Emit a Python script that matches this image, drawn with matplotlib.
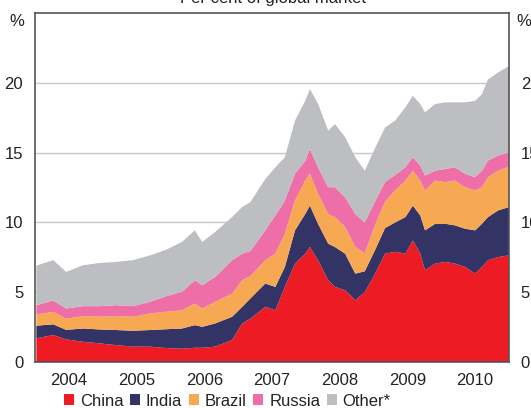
import matplotlib
matplotlib.use("Agg")
import matplotlib.pyplot as plt
from matplotlib.patches import Patch

plt.rcParams['font.family'] = ['Liberation Sans', 'DejaVu Sans']

# Time (decimal years)
dates = [2004.02, 2004.27, 2004.46, 2004.71, 2004.96, 2005.20, 2005.45, 2005.70,
         2005.94, 2006.17, 2006.36, 2006.47, 2006.66, 2006.91, 2007.06, 2007.18,
         2007.40, 2007.55, 2007.69, 2007.84, 2007.99, 2008.06, 2008.18, 2008.33,
         2008.43, 2008.58, 2008.73, 2008.87, 2009.02, 2009.17, 2009.32, 2009.47,
         2009.58, 2009.69, 2009.76, 2009.91, 2010.06, 2010.20, 2010.35, 2010.50,
         2010.60, 2010.69, 2010.84, 2011.00]

china = [1.70, 1.93, 1.62, 1.45, 1.33, 1.21, 1.10, 1.10, 1.00, 0.95, 1.02, 1.02,
         1.10, 1.57, 2.76, 3.10, 3.95, 3.71, 5.38, 7.05, 7.76, 8.24, 7.29, 5.86,
         5.38, 5.14, 4.43, 5.00, 6.30, 7.76, 7.90, 7.76, 8.71, 7.76, 6.57, 7.05,
         7.17, 7.05, 6.81, 6.33, 6.81, 7.29, 7.52, 7.64]
india = [0.90, 0.77, 0.68, 0.95, 1.00, 1.08, 1.14, 1.19, 1.35, 1.45, 1.62, 1.50,
         1.66, 1.67, 1.19, 1.45, 1.67, 1.67, 1.43, 2.38, 2.84, 2.96, 2.61, 2.62,
         2.86, 2.62, 1.90, 1.50, 1.70, 1.84, 2.10, 2.62, 2.49, 2.74, 2.86, 2.85,
         2.73, 2.74, 2.74, 3.10, 3.09, 3.09, 3.34, 3.46]
brazil = [0.80, 0.90, 0.80, 0.89, 0.91, 1.00, 1.00, 1.19, 1.25, 1.31, 1.55, 1.31,
          1.55, 1.66, 1.91, 1.60, 1.67, 2.38, 2.38, 2.14, 2.40, 2.30, 2.15, 2.12,
          2.14, 1.91, 1.91, 1.30, 1.80, 1.90, 2.30, 2.62, 2.50, 2.50, 2.86, 3.10,
          2.98, 3.21, 2.97, 2.86, 2.62, 2.86, 2.84, 2.90]
russia = [0.67, 0.80, 0.73, 0.71, 0.76, 0.78, 0.76, 0.83, 1.12, 1.31, 1.67, 1.67,
          1.79, 2.39, 1.90, 1.80, 2.14, 2.74, 2.38, 1.93, 1.40, 1.76, 1.90, 1.92,
          2.14, 2.13, 2.36, 2.20, 1.70, 1.40, 1.10, 0.95, 0.97, 1.07, 1.07, 0.70,
          0.95, 0.95, 0.96, 0.95, 1.18, 1.19, 1.09, 1.00]
other = [2.83, 2.90, 2.62, 2.93, 3.10, 3.10, 3.30, 3.33, 3.33, 3.58, 3.57, 3.10,
         3.21, 3.09, 3.34, 3.50, 3.67, 3.45, 3.10, 3.80, 4.30, 4.29, 4.55, 4.05,
         4.53, 4.30, 4.07, 3.70, 3.80, 3.90, 3.90, 4.29, 4.40, 4.41, 4.52, 4.78,
         4.77, 4.65, 5.12, 5.47, 5.49, 5.81, 5.95, 6.20]

labels = ['China', 'India', 'Brazil', 'Russia', 'Other*']
colors = ['#ed1c24', '#333366', '#f6a852', '#ee6ea7', '#bdbec1']
years = [2004, 2005, 2006, 2007, 2008, 2009, 2010]
yticks = [0, 5, 10, 15, 20]

fig = plt.figure(figsize=(5.31, 4.08), dpi=100)
ax = fig.add_axes([35/531, 46/408, 474/531, 349/408])

ax.stackplot(dates, china, india, brazil, russia, other, colors=colors,
             linewidth=0, zorder=2)

ax.set_xlim(2004.0, 2011.0)
ax.set_ylim(0, 25)

for y in yticks[1:]:
    ax.axhline(y, color='#c8c8c8', lw=1.0, zorder=1)

ax.set_yticks(yticks)
ax.tick_params(axis='y', which='both', left=False, right=False,
               labelleft=True, labelright=True, labelsize=12, pad=5,
               labelcolor='#222222')

ax.set_xticks([y + 1 for y in years[:-1]])
ax.set_xticks([y + 0.5 for y in years], minor=True)
ax.set_xticklabels([])
ax.set_xticklabels([str(y) for y in years], minor=True)
ax.tick_params(axis='x', which='major', direction='in', length=5, width=1.2,
               color='#444444', top=False)
ax.tick_params(axis='x', which='minor', length=0, labelsize=12, pad=8,
               labelcolor='#222222')

for s in ax.spines.values():
    s.set_color('#555555')
    s.set_linewidth(1.2)
    s.set_zorder(5)

fig.text(17/531, 1 - 22/408, '%', ha='center', va='center', fontsize=12, color='#222222')
fig.text(524/531, 1 - 22/408, '%', ha='center', va='center', fontsize=12, color='#222222')
fig.text(273/531, 1 - 3.5/408, 'Per cent of global market', ha='center',
         va='baseline', fontsize=12, color='#222222')

handles = [Patch(facecolor=c, edgecolor='none') for c in colors]
fig.legend(handles, labels, loc='center left', bbox_to_anchor=(64/531, 1 - 401/408),
           ncol=5, frameon=False, fontsize=12, handlelength=0.6, handleheight=0.6,
           handletextpad=0.35, columnspacing=0.4, borderpad=0, borderaxespad=0,
           labelcolor='#222222')

fig.savefig('out.png', dpi=100)
